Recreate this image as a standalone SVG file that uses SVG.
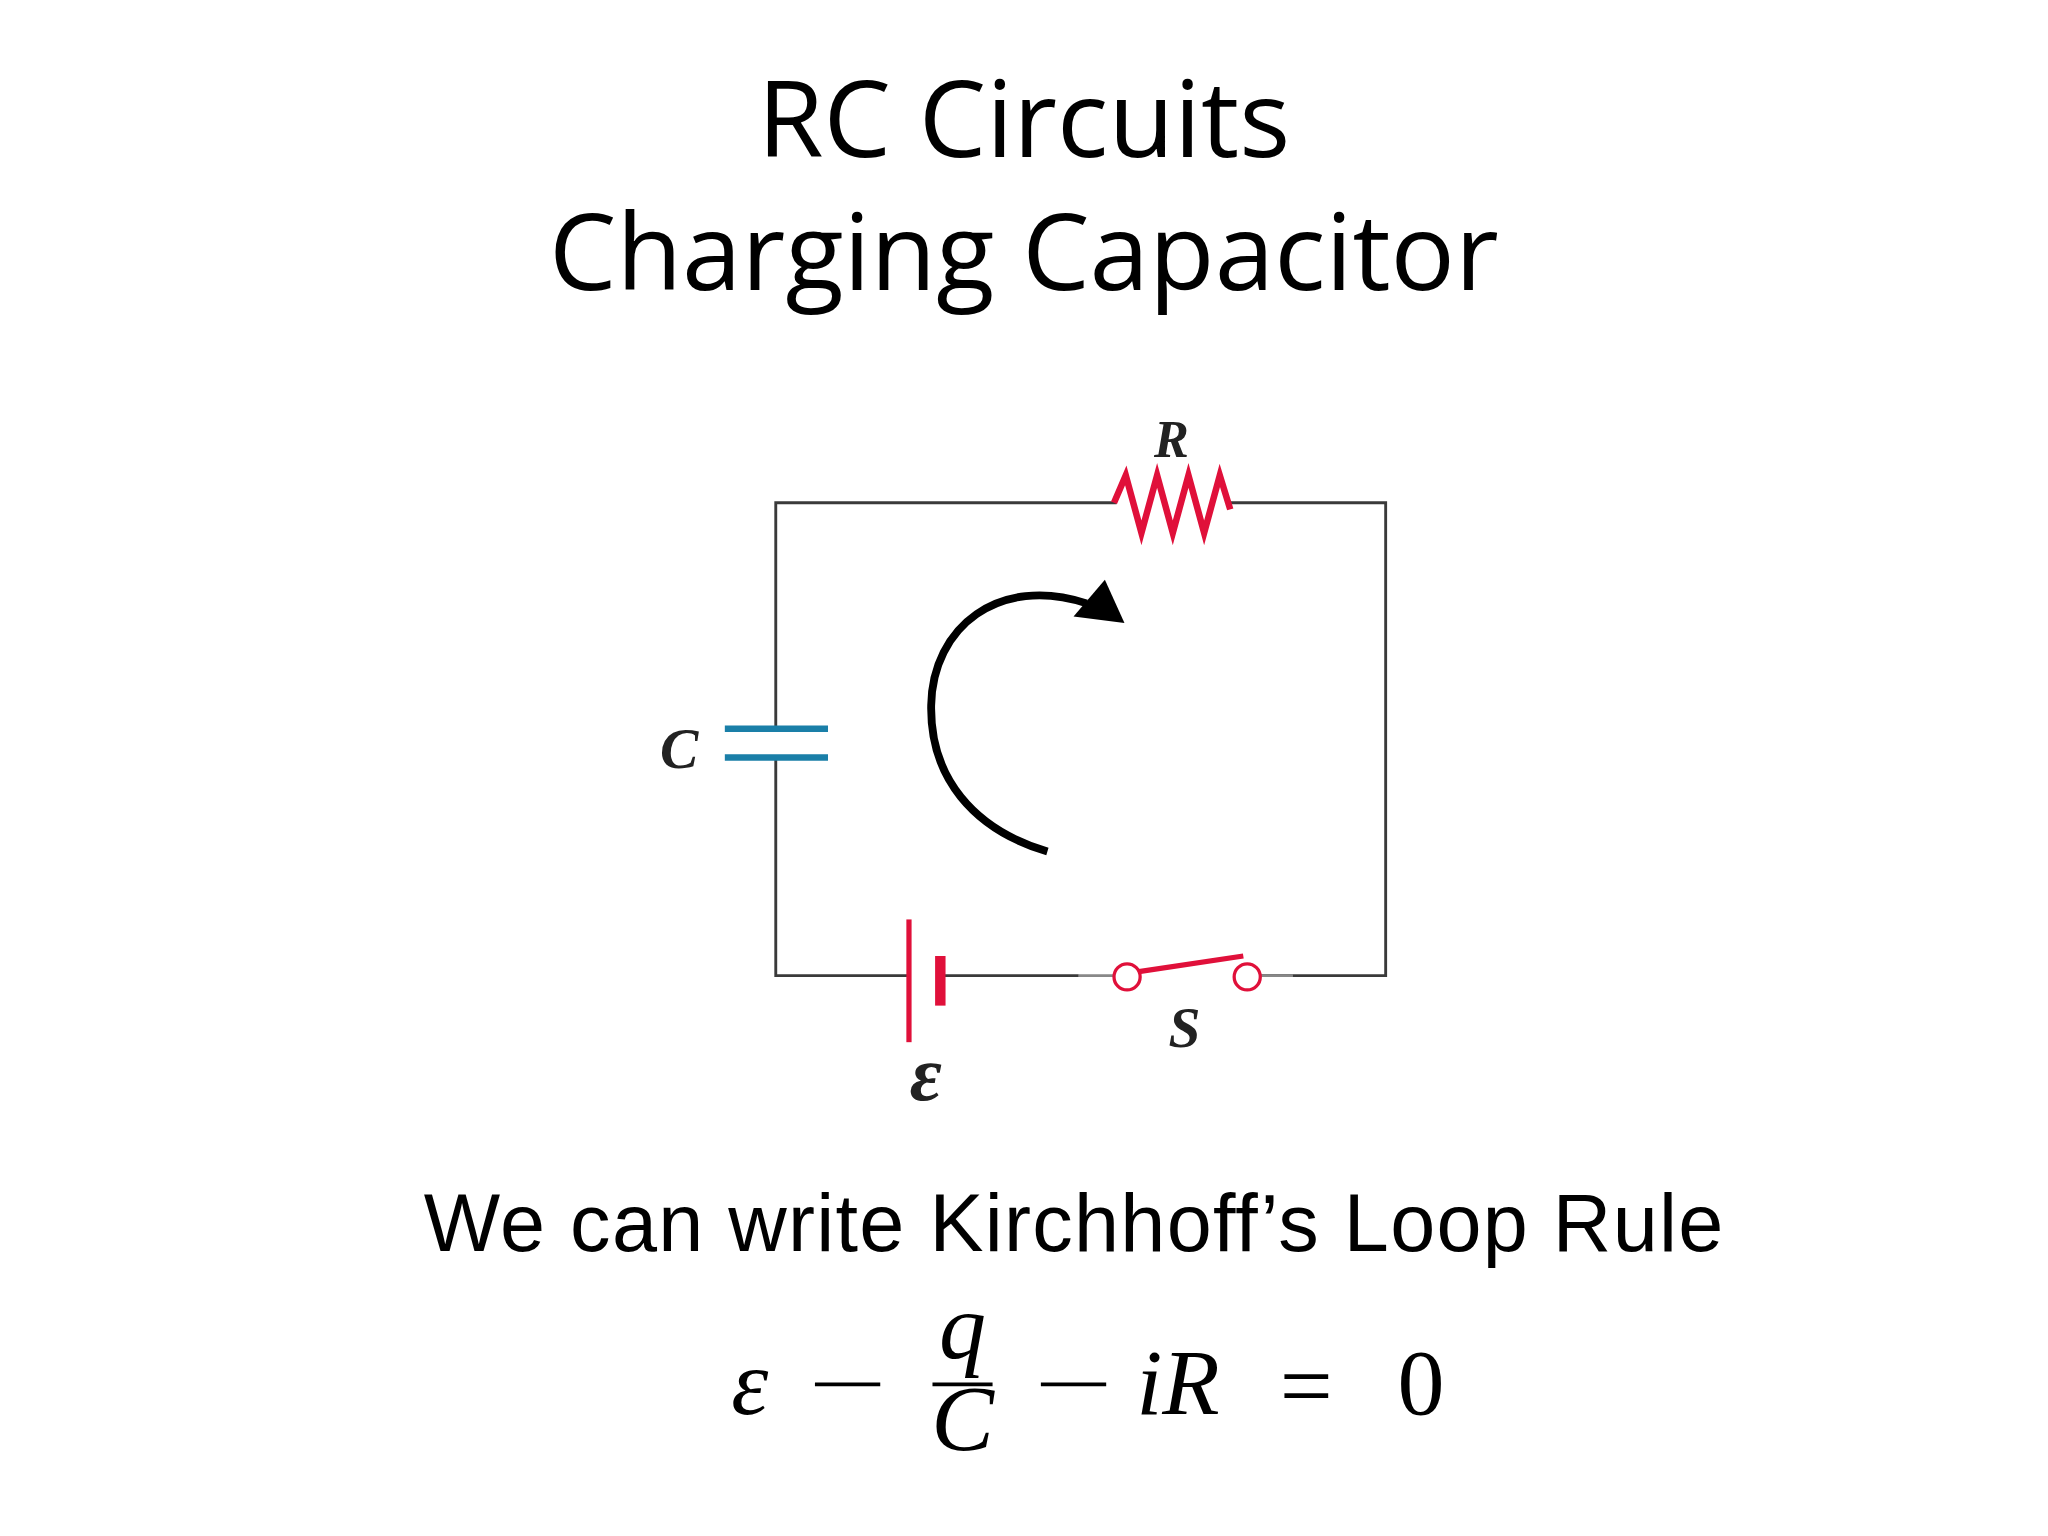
<svg xmlns="http://www.w3.org/2000/svg" width="2048" height="1536" viewBox="0 0 2048 1536">
<style>
.title{font-family:"Open Sans","Lato",sans-serif;font-size:82px;fill:#000;text-anchor:middle}
.wire{stroke:#3a3a3a;stroke-width:2.2;fill:none}
.red{stroke:#e0103a;fill:none}
.lbl{font-family:"Liberation Serif",serif;font-style:italic;font-weight:bold;fill:#222;text-anchor:middle}
.math{font-family:"Liberation Serif",serif;font-size:72px;fill:#000}
</style>
<rect width="2048" height="1536" fill="#fff"/>
<g transform="scale(1.306)">
<g id="title"><text class="title" x="784" y="120">RC Circuits</text><text class="title" x="784" y="222">Charging Capacitor</text></g>
<g id="connectors">
<path class="wire" d="M855,385 H594 V558 M594,580 V747 H696 M720,747 H826 M965,747 H1061 V385 H940"/>
</g>
<g id="resistor"><path class="red" stroke-width="5" d="M853,385 L862,364 L874,408 L886,364 L898,408 L910,364 L922,408 L934,364 L942,390"/><text class="lbl" x="897" y="350" font-size="40">R</text></g>
<g id="capacitor"><path d="M555,558 H634 M555,580 H634" stroke="#1a7fa8" stroke-width="5"/><text class="lbl" x="520" y="588" font-size="44">C</text></g>
<g id="battery"><path class="red" stroke-width="4" d="M696,704 V798"/><path class="red" stroke-width="8" d="M720,732 V770"/><text class="lbl" x="709" y="842" font-size="60">ε</text></g>
<g id="switch"><path d="M826,747 H853 M965,747 H990" stroke="#888" stroke-width="2.2"/><circle class="red" cx="863" cy="748" r="10" stroke-width="2.5" fill="#fff"/><circle class="red" cx="955" cy="748" r="10" stroke-width="2.5" fill="#fff"/><path class="red" stroke-width="4" d="M872,744 L952,732"/><text class="lbl" x="907" y="802" font-size="44">S</text></g>
<g id="loop"><path d="M802,652 C745,635 712,595 713,540 C714,480 765,440 832,462" stroke="#000" stroke-width="6" fill="none"/><path d="M846,444 L861,477 L822,472 z" fill="#000"/></g>
<g id="caption"><text x="822" y="958" font-family="Liberation Sans,Arial,sans-serif" font-size="62" text-anchor="middle" textLength="995">We can write Kirchhoff’s Loop Rule</text></g>
<g id="equation">
<text class="math" x="560" y="1083" font-style="italic">ε</text>
<path d="M624,1060 H674 M714,1060 H760 M797,1060 H847" stroke="#000" stroke-width="3"/>
<text class="math" x="737" y="1040" font-size="40" font-style="italic" text-anchor="middle">q</text>
<text class="math" x="737" y="1110" font-size="46" font-style="italic" text-anchor="middle">C</text>
<text class="math" x="870" y="1083" font-style="italic">iR</text>
<text class="math" x="980" y="1085" font-size="84">=</text>
<text class="math" x="1070" y="1083">0</text>
</g>
</g>
</svg>
